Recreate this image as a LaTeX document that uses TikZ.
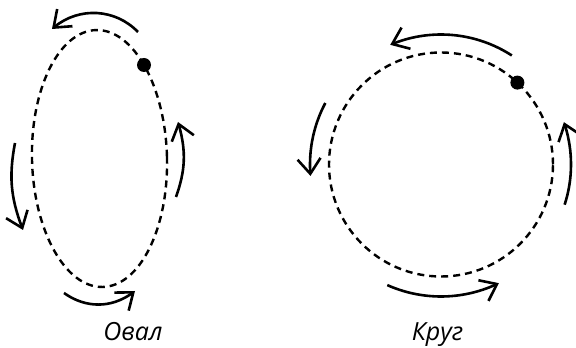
\documentclass[tikz,border=0pt]{standalone}
\usepackage{fontspec}
\setmainfont{Open Sans}
\usetikzlibrary{arrows.meta,bending}

\begin{document}
\begin{tikzpicture}[x=1pt,y=1pt,
  orbit/.style={line width=2.4pt,dash pattern=on 7pt off 5pt},
  motion/.style={line width=2.6pt,-{Straight Barb[length=15pt,width=23pt,flex]}},
  body/.style={circle,fill=black,inner sep=0pt,minimum size=14pt},
  caption/.style={font=\fontsize{25}{30}\selectfont\itshape,anchor=base}]
\useasboundingbox (0,0) rectangle (576,348);
% oval
\coordinate (oval) at (99.5,189.5);
\draw[orbit,rotate around={1.5:(oval)}] (oval) ellipse[x radius=67.5,y radius=128.5];
\node[body] (dot1) at (144,283) {};
\coordinate (ot1) at (138,316); \coordinate (ot2) at (52,319);
\coordinate (ol1) at (15,205); \coordinate (ol2) at (23,118);
\coordinate (ob1) at (64,55); \coordinate (ob2) at (135,57);
\coordinate (or1) at (176,151); \coordinate (or2) at (178,226);
\draw[motion] (ot1) to[bend right=44] (ot2);
\draw[motion] (ol1) to[bend right=16] (ol2);
\draw[motion] (ob1) to[bend right=37] (ob2);
\draw[motion] (or1) to[bend right=18] (or2);
\node[caption] (lbl1) at (133,7.5) {Овал};
% circle
\coordinate (krug) at (441,183.5);
\draw[orbit] (krug) circle[radius=112];
\node[body] (dot2) at ([shift={(47:112)}]krug) {};
\draw[motion] ([shift={(57:130)}]krug) arc[start angle=57,end angle=113,radius=130];
\draw[motion] ([shift={(152:131)}]krug) arc[start angle=152,end angle=185,radius=131];
\draw[motion] ([shift={(246:132)}]krug) arc[start angle=246,end angle=296,radius=132];
\draw[motion] ([shift={(-18:130)}]krug) arc[start angle=-18,end angle=19,radius=130];
\node[caption] (lbl2) at (437.5,7.5) {Круг};
\end{tikzpicture}
\end{document}
